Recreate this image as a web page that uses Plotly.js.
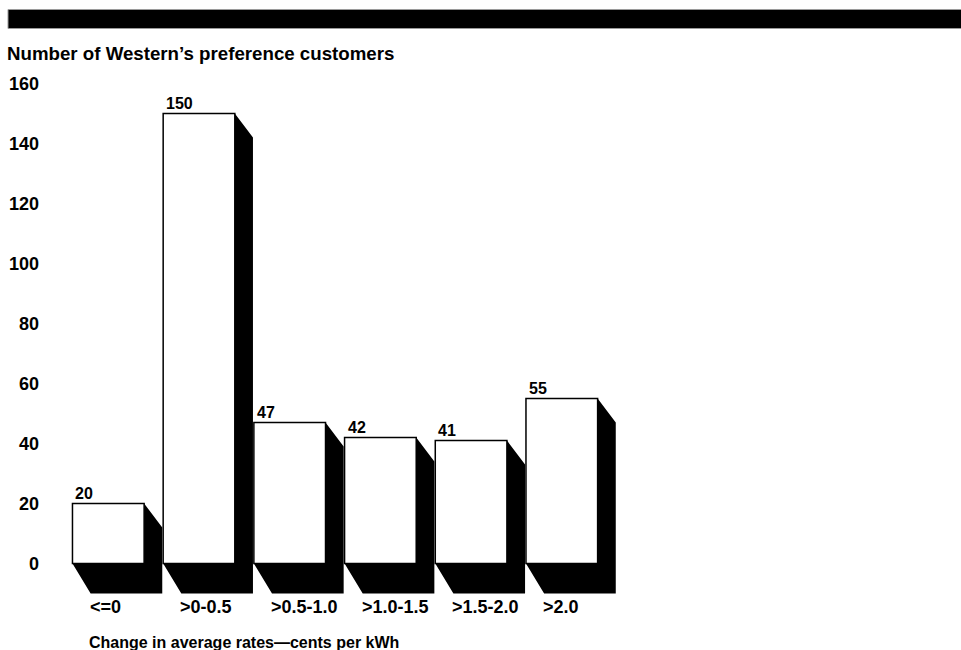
<!DOCTYPE html>
<html>
<head>
<meta charset="utf-8">
<script src="https://cdn.plot.ly/plotly-3.0.1.min.js"></script>
<style>
  html, body { margin: 0; padding: 0; background: #ffffff; }
  #chart { width: 961px; height: 650px; }
</style>
</head>
<body>
<div id="chart"></div>
<script>
// Rate-change bins and customer counts
const categories = ['<=0', '>0-0.5', '>0.5-1.0', '>1.0-1.5', '>1.5-2.0', '>2.0'];
const customers = [20, 150, 47, 42, 41, 55];
const yTicks = [0, 20, 40, 60, 80, 100, 120, 140, 160];

const yCaption = 'Number of Western’s preference customers';
const xCaption = 'Change in average rates—cents per kWh';

// Bar geometry in axis units
const barWidth = 0.79;
const depthX = 0.2;     // sideways extrusion of the 3-D block
const depthTop = 8;     // drop of the top-right bevel
const depthBase = 10;   // drop of the base

const pos = categories.map((_, i) => i);

// Black extruded side/base for each bar (L-shaped polygon behind the front face)
const shadowX = [], shadowY = [];
pos.forEach((p, i) => {
  const x0 = p - barWidth / 2, x1 = p + barWidth / 2, v = customers[i];
  shadowX.push(x0, x0 + depthX, x1 + depthX, x1 + depthX, x1, x1, x0, null);
  shadowY.push(0, -depthBase, -depthBase, v - depthTop, v, 0, 0, null);
});

const L = 60, R = 300, T = 68, B = 50;
const W = 961, H = 650;
const plotW = W - L - R, plotH = H - T - B;
const pxPerUnitX = 90.7, pxPerUnitY = 3;
const xMin = -0.5325, xMax = xMin + plotW / pxPerUnitX;
const zeroPx = 563.5;
const yMax = (zeroPx - T) / pxPerUnitY;
const yMin = (zeroPx - (H - B)) / pxPerUnitY;
const toPaperX = px => (px - L) / plotW;
const toPaperY = py => (H - B - py) / plotH;

const font = { family: 'Liberation Sans, Arial, sans-serif', color: '#000000', weight: 'bold' };

const traces = [
  {
    type: 'bar',
    x: pos,
    y: customers,
    width: barWidth,
    marker: { color: '#ffffff', line: { color: '#000000', width: 1.5 } },
    hoverinfo: 'skip'
  },
  {
    type: 'scatter',
    mode: 'lines',
    x: shadowX,
    y: shadowY,
    fill: 'toself',
    fillcolor: '#000000',
    line: { width: 0, color: '#000000' },
    connectgaps: false,
    hoverinfo: 'skip'
  }
];

const annotations = [];
// value labels sitting on the top-left corner of each bar
pos.forEach((p, i) => {
  annotations.push({
    x: p - barWidth / 2, y: customers[i], xref: 'x', yref: 'y',
    text: String(customers[i]), showarrow: false,
    xanchor: 'left', yanchor: 'bottom', xshift: 1, yshift: 0,
    font: Object.assign({}, font, { size: 16 })
  });
});
// category labels under the base of each block
pos.forEach((p, i) => {
  annotations.push({
    x: p - barWidth / 2 + depthX, y: toPaperY(607), xref: 'x', yref: 'paper',
    text: categories[i], showarrow: false,
    xanchor: 'left', yanchor: 'middle', xshift: -3,
    font: Object.assign({}, font, { size: 18 })
  });
});
// x-axis caption
annotations.push({
  x: toPaperX(87), y: toPaperY(642), xref: 'paper', yref: 'paper',
  text: xCaption, showarrow: false, xanchor: 'left', yanchor: 'middle',
  font: Object.assign({}, font, { size: 16 })
});

const layout = {
  width: W, height: H,
  margin: { l: L, r: R, t: T, b: B, pad: 0 },
  paper_bgcolor: '#ffffff',
  plot_bgcolor: '#ffffff',
  font: font,
  showlegend: false,
  bargap: 0,
  title: {
    text: yCaption,
    x: 7 / W, xanchor: 'left', xref: 'container',
    y: 1 - 53 / H, yanchor: 'middle', yref: 'container',
    font: Object.assign({}, font, { size: 18.7 })
  },
  xaxis: {
    range: [xMin, xMax],
    showgrid: false, zeroline: false, showline: false,
    showticklabels: false, ticks: '', fixedrange: true
  },
  yaxis: {
    range: [yMin, yMax],
    tickmode: 'array', tickvals: yTicks, ticktext: yTicks.map(String),
    showgrid: false, zeroline: false, showline: false,
    ticks: '', ticklabelstandoff: 20,
    tickfont: Object.assign({}, font, { size: 18 }),
    fixedrange: true
  },
  shapes: [
    {
      type: 'rect', xref: 'paper', yref: 'paper',
      x0: toPaperX(8), x1: toPaperX(962), y0: toPaperY(28.5), y1: toPaperY(9.5),
      fillcolor: '#000000', line: { width: 1, color: '#9a9a9a' }, layer: 'above'
    }
  ],
  annotations: annotations
};

Plotly.newPlot('chart', traces, layout, { displayModeBar: false, staticPlot: true });
</script>
</body>
</html>
